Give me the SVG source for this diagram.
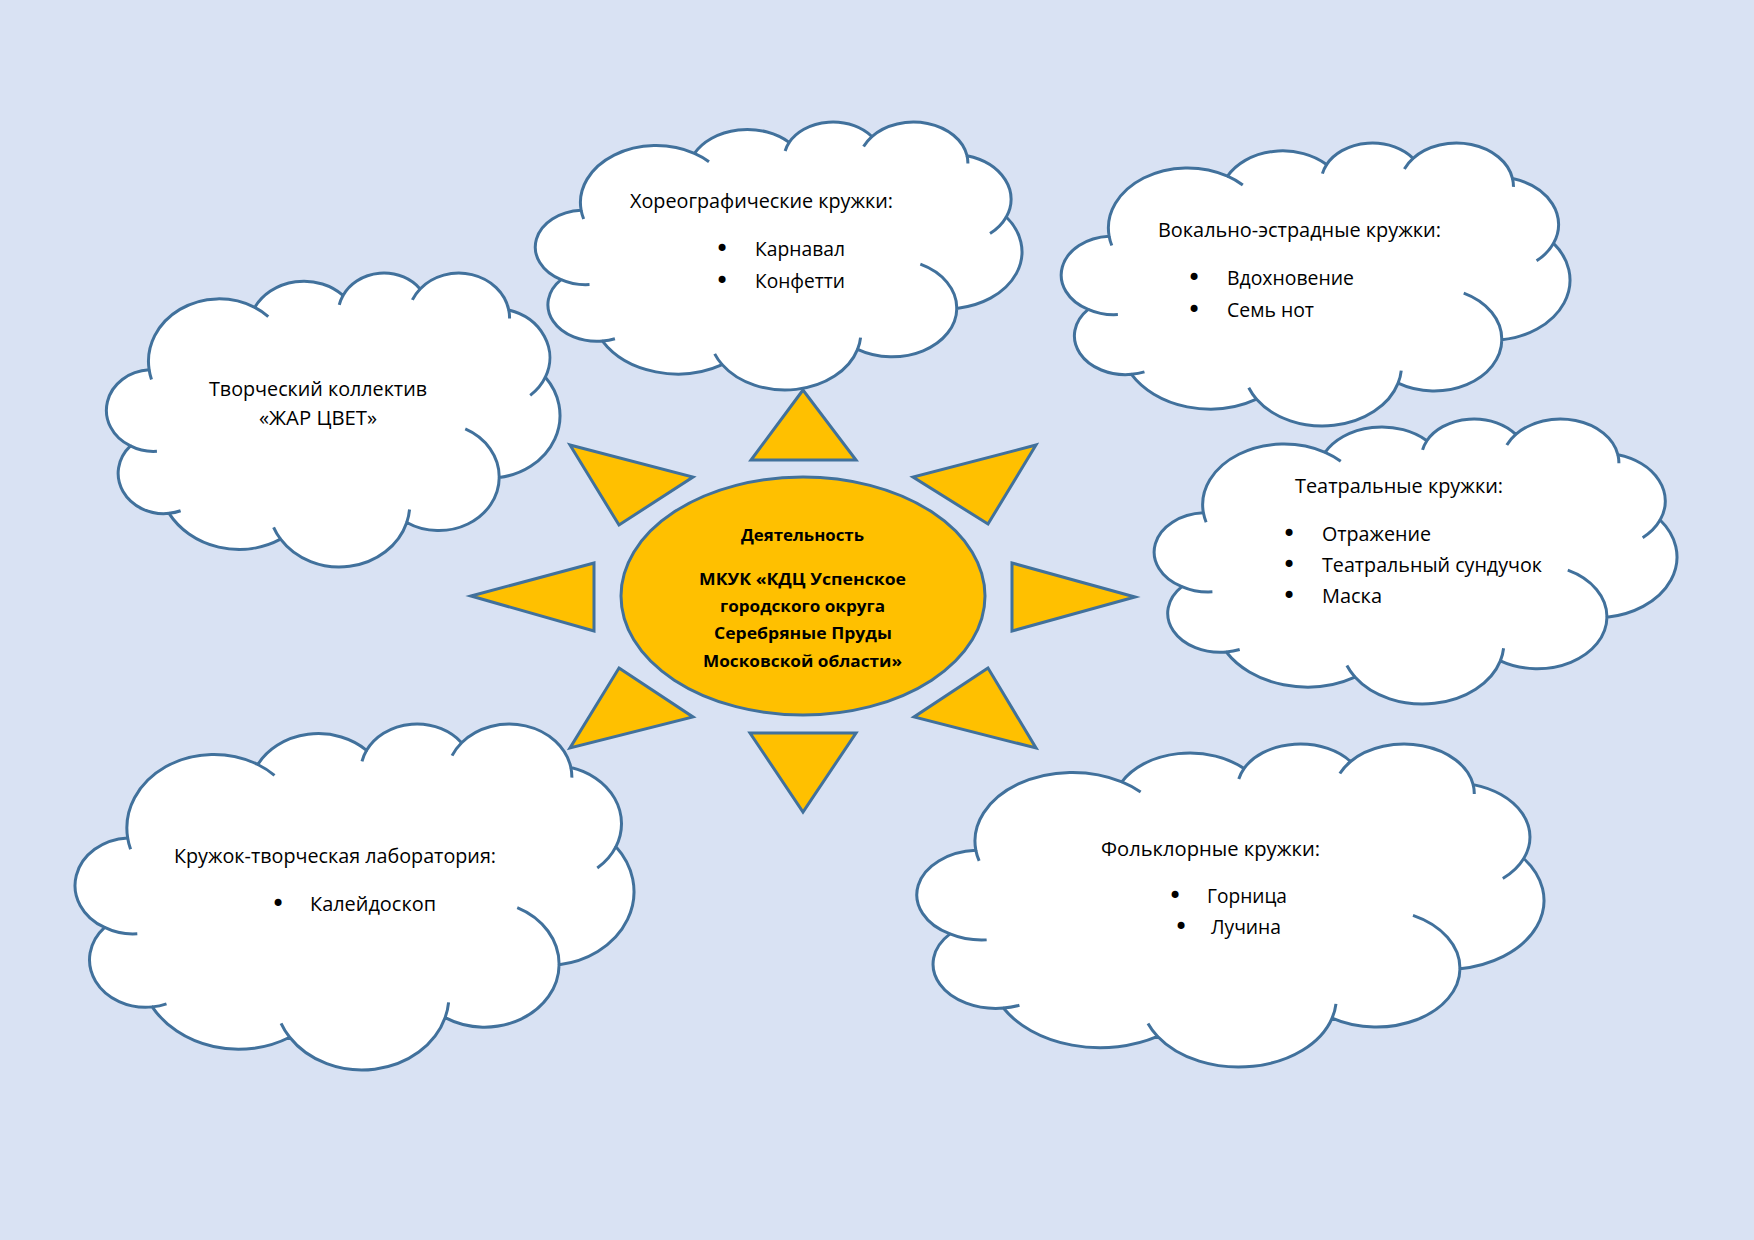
<svg xmlns="http://www.w3.org/2000/svg" xmlns:xlink="http://www.w3.org/1999/xlink" width="1754" height="1240" viewBox="0 0 1754 1240">
<style>
.cl{fill:#ffffff;stroke:#41719C;stroke-width:3;vector-effect:non-scaling-stroke;stroke-linejoin:round}
.tk{fill:none;stroke:#41719C;stroke-width:3;vector-effect:non-scaling-stroke;stroke-linecap:butt}
.ray{fill:#FFC000;stroke:#41719C;stroke-width:3;stroke-linejoin:miter}
.t{font-family:"Open Sans","Noto Sans","DejaVu Sans",sans-serif;font-size:20px;fill:#000000}
.b{font-family:"Open Sans","Noto Sans","DejaVu Sans",sans-serif;font-size:16.5px;font-weight:bold;fill:#000000}
.bl{font-family:"DejaVu Sans",sans-serif;font-size:24px;fill:#000000;text-anchor:middle}
</style>
<defs>
<symbol id="cloud" viewBox="-35 140 43256 43217" preserveAspectRatio="none" style="overflow:visible">
<path class="cl" d="M3900 14370 A6753 9190 0 0 1 14005 5202 A5333 7267 0 0 1 22456 3432 A4365 5945 0 0 1 29833 2480 A4857 6595 0 0 1 38318 5575 A5333 7273 0 0 1 41819 15459 A6775 9220 0 0 1 37405 30202 A5785 7867 0 0 1 28556 36813 A6752 9215 0 0 1 16481 39265 A7720 10543 0 0 1 5806 35472 A4360 5918 0 0 1 2114 25551 A4345 5945 0 0 1 3900 14370 Z"/>
<path class="tk" d="M4648 26348 A4345 5945 0 0 1 2114 25551 M6915 35090 A4360 5918 0 0 1 5806 35472 M16481 39265 A6752 9215 0 0 1 15813 37524 M28823 34903 A6752 9215 0 0 1 28556 36813 M34154 23067 A5785 7867 0 0 1 37405 30202 M41819 15459 A5333 7273 0 0 1 40370 18136 M38318 5575 A4857 6595 0 0 1 38395 6840 M29091 4093 A4857 6595 0 0 1 29833 2480 M22097 4821 A4365 5945 0 0 1 22456 3432 M14005 5202 A6753 9190 0 0 1 15304 6549 M4127 15789 A6753 9190 0 0 1 3900 14370"/>
</symbol>
</defs>
<rect x="0" y="0" width="1754" height="1240" fill="#D9E2F3"/>

<g id="cloud-zharcvet">
<use href="#cloud" x="108" y="273" width="452" height="294" style="overflow:visible"/>
<text class="t" x="209" y="396" textLength="218" lengthAdjust="spacingAndGlyphs">Творческий коллектив</text>
<text class="t" x="259" y="425" textLength="118" lengthAdjust="spacingAndGlyphs">«ЖАР ЦВЕТ»</text>
</g>

<g id="cloud-horeo">
<use href="#cloud" x="537" y="122" width="485" height="268" style="overflow:visible"/>
<text class="t" x="630" y="208" textLength="263" lengthAdjust="spacingAndGlyphs">Хореографические кружки:</text>
<text class="bl" x="722" y="257">•</text>
<text class="t" x="755" y="256" textLength="90" lengthAdjust="spacingAndGlyphs">Карнавал</text>
<text class="bl" x="722" y="289">•</text>
<text class="t" x="755" y="288" textLength="90" lengthAdjust="spacingAndGlyphs">Конфетти</text>
</g>

<g id="cloud-vokal">
<use href="#cloud" x="1063" y="143" width="507" height="283" style="overflow:visible"/>
<text class="t" x="1158" y="237" textLength="283" lengthAdjust="spacingAndGlyphs">Вокально-эстрадные кружки:</text>
<text class="bl" x="1194" y="286">•</text>
<text class="t" x="1227" y="285" textLength="127" lengthAdjust="spacingAndGlyphs">Вдохновение</text>
<text class="bl" x="1194" y="318">•</text>
<text class="t" x="1227" y="317" textLength="87" lengthAdjust="spacingAndGlyphs">Семь нот</text>
</g>

<g id="cloud-teatr">
<use href="#cloud" x="1156" y="419" width="521" height="285" style="overflow:visible"/>
<text class="t" x="1295" y="493" textLength="208" lengthAdjust="spacingAndGlyphs">Театральные кружки:</text>
<text class="bl" x="1289" y="542">•</text>
<text class="t" x="1322" y="541" textLength="109" lengthAdjust="spacingAndGlyphs">Отражение</text>
<text class="bl" x="1289" y="573">•</text>
<text class="t" x="1322" y="572" textLength="220" lengthAdjust="spacingAndGlyphs">Театральный сундучок</text>
<text class="bl" x="1289" y="604">•</text>
<text class="t" x="1322" y="603" textLength="60" lengthAdjust="spacingAndGlyphs">Маска</text>
</g>

<g id="cloud-laboratoriya">
<use href="#cloud" x="77" y="724" width="557" height="346" style="overflow:visible"/>
<text class="t" x="174" y="863" textLength="322" lengthAdjust="spacingAndGlyphs">Кружок-творческая лаборатория:</text>
<text class="bl" x="278" y="912">•</text>
<text class="t" x="310" y="911" textLength="126" lengthAdjust="spacingAndGlyphs">Калейдоскоп</text>
</g>

<g id="cloud-folklor">
<use href="#cloud" x="919" y="744" width="625" height="323" style="overflow:visible"/>
<text class="t" x="1101" y="856" textLength="219" lengthAdjust="spacingAndGlyphs">Фольклорные кружки:</text>
<text class="bl" x="1175" y="904">•</text>
<text class="t" x="1207" y="903" textLength="80" lengthAdjust="spacingAndGlyphs">Горница</text>
<text class="bl" x="1181" y="935">•</text>
<text class="t" x="1211" y="934" textLength="70" lengthAdjust="spacingAndGlyphs">Лучина</text>
</g>

<g id="sun-rays">
<polygon class="ray" points="803,390 751,460 856,460"/>
<polygon class="ray" points="750,733 856,733 803,812"/>
<polygon class="ray" points="471,596 594,563 594,631"/>
<polygon class="ray" points="1135,597 1012,563 1012,631"/>
<polygon class="ray" points="570,445 693,477 619,525"/>
<polygon class="ray" points="1036,445 913,477 988,524"/>
<polygon class="ray" points="619,668 693,717 570,748"/>
<polygon class="ray" points="988,668 914,717 1036,748"/>
</g>

<g id="sun-center">
<ellipse cx="803" cy="596" rx="182" ry="119" fill="#FFC000" stroke="#41719C" stroke-width="3"/>
<text class="b" x="741" y="541" textLength="123" lengthAdjust="spacingAndGlyphs">Деятельность</text>
<text class="b" x="699" y="585" textLength="207" lengthAdjust="spacingAndGlyphs">МКУК «КДЦ Успенское</text>
<text class="b" x="720" y="612" textLength="165" lengthAdjust="spacingAndGlyphs">городского округа</text>
<text class="b" x="714" y="639" textLength="178" lengthAdjust="spacingAndGlyphs">Серебряные Пруды</text>
<text class="b" x="703" y="667" textLength="199" lengthAdjust="spacingAndGlyphs">Московской области»</text>
</g>
</svg>
